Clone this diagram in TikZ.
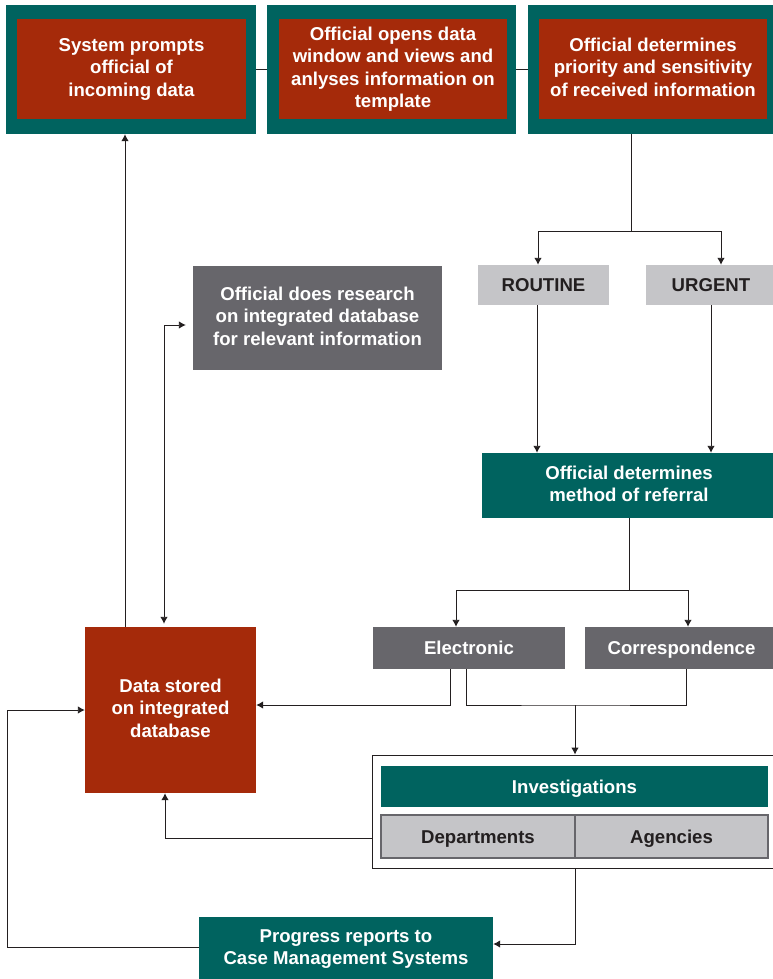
\documentclass[tikz,border=0pt]{standalone}
\usepackage{fontspec}
\setmainfont{Liberation Sans}
\usepackage{tikz}
\usetikzlibrary{positioning,arrows.meta,calc}
\definecolor{teal}{RGB}{0,99,95}
\definecolor{rust}{RGB}{165,42,10}
\definecolor{slate}{RGB}{103,102,107}
\definecolor{pale}{RGB}{197,197,200}
\definecolor{ink}{RGB}{35,31,32}
\tikzset{
    >={Latex[length=7pt,width=7.5pt]},
    frame/.style = {
        shape=rectangle,
        fill=teal,
        inner sep=0pt
    },
    redbox/.style = {
        shape=rectangle,
        fill=rust,
        text=white,
        align=center,
        inner sep=0pt,
        font=\fontsize{18.6}{22.5}\selectfont\bfseries,
        execute at begin node={\rule{0pt}{0.93em}},
        execute at end node={\rule[-0.21em]{0pt}{0pt}}
    },
    tealbox/.style = {
        redbox,
        fill=teal
    },
    greybox/.style = {
        redbox,
        fill=slate
    },
    palebox/.style = {
        redbox,
        fill=pale,
        text=ink
    },
    cellbox/.style = {
        palebox,
        draw=slate,
        line width=2.5pt
    },
    link/.style = {
        draw=ink,
        line width=0.9pt
    },
}
\begin{document}
\begin{tikzpicture}[x=1pt, y=-1pt]
    \useasboundingbox (0,0) rectangle (772,979);

    \node[frame, minimum width=250, minimum height=129] (sysout) at (131,69.5) {};
    \node[redbox, minimum width=229, minimum height=100] (sys) at (131.5,69) {System prompts\\official of\\incoming data};
    \node[frame, minimum width=249, minimum height=129] (opensout) at (391.5,69.5) {};
    \node[redbox, minimum width=228, minimum height=100] (opens) at (393,69) {Official opens data\\window and views and\\anlyses information on\\template};
    \node[frame, minimum width=250, minimum height=129] (prioout) at (653,69.5) {};
    \node[redbox, minimum width=228, minimum height=100] (prio) at (653,69) {Official determines\\priority and sensitivity\\of received information};

    \node[palebox, minimum width=131, minimum height=40] (routine) at (543.5,285) {ROUTINE};
    \node[palebox, minimum width=130, minimum height=40] (urgent) at (711,285) {URGENT};
    \node[greybox, minimum width=249, minimum height=104] (research) at (317.5,318) {Official does research\\on integrated database\\for relevant information};
    \node[tealbox, minimum width=294, minimum height=65] (method) at (629,485.5) {Official determines\\method of referral};
    \node[greybox, minimum width=192, minimum height=42] (electronic) at (469,648) {Electronic};
    \node[greybox, minimum width=193, minimum height=42] (corresp) at (681.5,648) {Correspondence};
    \node[redbox, minimum width=171, minimum height=166] (data) at (170.5,710) {Data stored\\on integrated\\database};

    \node[draw=ink, line width=0.9pt, minimum width=406, minimum height=113, inner sep=0pt] (invframe) at (575,811.5) {};
    \node[tealbox, minimum width=387, minimum height=41] (invest) at (574.5,786.5) {Investigations};
    \node[cellbox, minimum width=194, minimum height=43] (depts) at (478,836.5) {Departments};
    \node[cellbox, minimum width=193, minimum height=43] (agencies) at (671.5,836.5) {Agencies};
    \node[tealbox, minimum width=294, minimum height=64] (progress) at (346,949) {Progress reports to\\Case Management Systems};

    \coordinate (split) at (631,231);
    \coordinate (fork) at (629,590);
    \coordinate (merge) at (575,705);
    \coordinate (loopback) at (7,947);

    \path[link] (sysout) -- (opensout);
    \path[link] (opensout) -- (prioout);
    \path[link] (prioout.south -| split) -- (split);
    \path[link, ->] (split) -| ([xshift=-5.5pt]routine.north);
    \path[link, ->] (split) -| ([xshift=10pt]urgent.north);
    \path[link, ->] ([xshift=-6.5pt]routine.south) -- ([xshift=-6.5pt]routine.south |- method.north);
    \path[link, ->] (urgent.south) -- (urgent.south |- method.north);
    \path[link] (method.south -| fork) -- (fork);
    \path[link, ->] (fork) -| ([xshift=-13pt]electronic.north);
    \path[link, ->] (fork) -| ([xshift=6.5pt]corresp.north);
    \path[link, ->] ([xshift=-19pt]electronic.south) |- ([yshift=5pt]data.east);
    \path[link] ([xshift=-3pt]electronic.south) |- (merge) -| ([xshift=4.5pt]corresp.south);
    \path[link, ->] (merge) -- (invframe.north);
    \path[link, ->] ([yshift=-26.5pt]invframe.west) -| ([xshift=-5.5pt]data.south);
    \path[link, ->] ([xshift=-45.5pt]data.north) -- ([xshift=-45.5pt]data.north |- sysout.south);
    \path[link, <->, shorten <=7pt, shorten >=3pt] ([yshift=-7pt]research.west) -| ([xshift=-6.5pt]data.north);
    \path[link, ->] (invframe.south) |- ([yshift=5pt]progress.east);
    \path[link, ->] ([yshift=2pt]progress.west) -- (loopback) |- (data.west);
\end{tikzpicture}
\end{document}
